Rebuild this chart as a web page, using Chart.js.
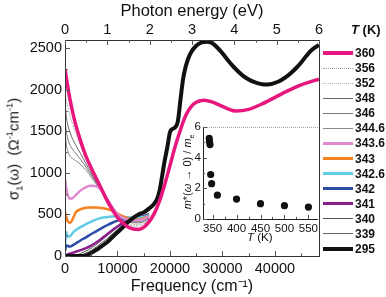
<!DOCTYPE html>
<html>
<head>
<meta charset="utf-8">
<script src="https://cdn.jsdelivr.net/npm/chart.js@4.4.0/dist/chart.umd.min.js"></script>
<style>
  body { margin: 0; background: #fff; }
  #wrap { position: relative; width: 386px; height: 297px; overflow: hidden;
          font-family: "Liberation Sans", Arial, sans-serif; color: #111; }
  #main { position: absolute; left: 0; top: 0; }
  #inset { position: absolute; left: 168px; top: 118px; }
  .lgtext { position: absolute; left: 355px; font-size: 12px; font-weight: bold; line-height: 14px; white-space: nowrap; }
  .lgline { position: absolute; left: 323px; width: 30px; }
  .lab { position: absolute; white-space: nowrap; }
  sup, sub { font-size: 0.62em; line-height: 0; }
</style>
</head>
<body>
<div id="wrap">
  <canvas id="main" width="386" height="297"></canvas>
  <canvas id="inset" width="154" height="128"></canvas>
  <div id="legend"></div>
  <div class="lab" style="left:13px; top:149px; font-size:15px; transform:translate(-50%,-50%) rotate(-90deg);">σ<sub>1</sub>(ω)&nbsp; (Ω<sup>-1</sup>cm<sup>-1</sup>)</div>
  <div class="lab" style="left:351px; top:22px; font-size:13px; font-weight:bold;"><i>T</i> (K)</div>
  <div class="lab" style="left:247px; top:231px; font-size:11.5px;"><i>T</i> (K)</div>
  <div class="lab" style="left:187px; top:172px; font-size:11px; transform:translate(-50%,-50%) rotate(-90deg);"><i>m</i>*(<i>ω</i> → 0) / <i>m</i><sub>e</sub></div>
</div>
<script>
// temperatures (K), legend order
const temps = ['360', '356', '352', '348', '346', '344.6', '343.6', '343', '342.6', '342', '341', '340', '339', '295'];

// tick values
const freqTicks = [0, 10000, 20000, 30000, 40000];
const eVTicks = [0, 1, 2, 3, 4, 5, 6];
const sigmaTicks = [0, 500, 1000, 1500, 2000, 2500];
const insetTTicks = [350, 400, 450, 500, 550];
const insetMTicks = [0, 2, 4, 6];

// frequency grid (cm^-1) shared by the intermediate temperatures
const freqLow = [0, 250, 500, 1000, 1500, 2000, 3000, 4000, 5000, 6000, 7000, 8000, 9000, 10000, 11000, 12000, 13000, 14000, 15000, 16000];

const s356 = [2150, 2050, 1960, 1810, 1680, 1560, 1360, 1190, 1050, 920, 795, 670, 565, 478, 420, 380, 360, 360, 385, 430];
const s352 = [2000, 1880, 1800, 1680, 1580, 1490, 1320, 1170, 1035, 910, 790, 670, 570, 482, 430, 395, 380, 380, 400, 440];
const s348 = [1850, 1680, 1590, 1480, 1400, 1340, 1230, 1110, 1000, 890, 775, 665, 570, 485, 440, 410, 400, 400, 415, 450];
const s346 = [1650, 1500, 1420, 1330, 1280, 1240, 1160, 1070, 975, 875, 770, 665, 575, 495, 450, 425, 415, 415, 430, 460];
const s3446 = [1500, 1350, 1270, 1200, 1170, 1150, 1100, 1030, 950, 860, 765, 665, 580, 500, 460, 435, 425, 425, 440, 470];
const s3436 = [920, 820, 740, 690, 700, 730, 790, 830, 845, 840, 790, 690, 590, 505, 460, 440, 430, 430, 445, 475];
const s343 = [530, 470, 420, 400, 450, 520, 565, 580, 585, 585, 578, 565, 545, 510, 480, 455, 440, 440, 455, 480];
const s3426 = [130, 290, 230, 240, 280, 310, 350, 385, 415, 440, 460, 470, 475, 475, 470, 465, 460, 460, 470, 490];
const s342 = [60, 130, 120, 115, 130, 150, 190, 225, 265, 300, 335, 370, 400, 425, 445, 455, 460, 465, 475, 495];
const s341 = [10, 15, 20, 30, 40, 50, 70, 95, 125, 165, 210, 260, 310, 355, 395, 425, 445, 460, 475, 500];
const s340 = [0, 0, 0, 0, 2, 8, 30, 60, 95, 140, 190, 245, 295, 345, 385, 420, 445, 465, 480, 505];
const s339 = [0, 0, 0, 0, 0, 0, 10, 35, 70, 110, 160, 210, 265, 320, 370, 410, 440, 465, 485, 515];

// 360 K, full range
const f360 = [0, 500, 1000, 1500, 2000, 3000, 4000, 5000, 6000, 7000, 8000, 9000, 10000, 11000, 12000, 13000, 14000, 15000, 16000, 17000, 18000, 19000, 20000, 21000, 22000, 23000, 24000, 25000, 26500, 28000, 30000, 32500, 35000, 37500, 40000, 42500, 45000, 48393];
const s360 = [2250, 2050, 1870, 1720, 1590, 1380, 1200, 1060, 930, 800, 670, 560, 465, 400, 350, 325, 320, 345, 410, 510, 660, 860, 1090, 1320, 1520, 1690, 1795, 1850, 1875, 1855, 1800, 1745, 1765, 1830, 1910, 1990, 2060, 2130];

// 295 K, full range
const f295 = [0, 3500, 4000, 5000, 6000, 7000, 8000, 9000, 10000, 11000, 12000, 13000, 14000, 15000, 16000, 17000, 17500, 18000, 18500, 19000, 19500, 20000, 20500, 21000, 21500, 22000, 22500, 23000, 23500, 24000, 25000, 26000, 27000, 28000, 29000, 30000, 31000, 32000, 33000, 34000, 35000, 36000, 37000, 38000, 39000, 40000, 41000, 42000, 43000, 44000, 45000, 46000, 47000, 48393];
const s295 = [0, 0, 8, 35, 75, 120, 165, 225, 285, 345, 410, 460, 500, 525, 570, 630, 680, 780, 960, 1150, 1310, 1490, 1530, 1550, 1620, 1880, 2130, 2280, 2380, 2450, 2530, 2570, 2580, 2565, 2510, 2440, 2360, 2285, 2220, 2165, 2125, 2095, 2075, 2065, 2068, 2085, 2110, 2150, 2200, 2260, 2330, 2410, 2480, 2540];

// inset: effective mass ratio vs temperature
const insetT = [343, 343.6, 344.6, 346, 348, 360, 400, 450, 500, 550];
const insetM = [5.25, 5.05, 4.85, 2.9, 2.3, 1.55, 1.3, 1.0, 0.87, 0.78];

const seriesData = {
  '360': [f360, s360], '356': [freqLow, s356], '352': [freqLow, s352], '348': [freqLow, s348],
  '346': [freqLow, s346], '344.6': [freqLow, s3446], '343.6': [freqLow, s3436], '343': [freqLow, s343],
  '342.6': [freqLow, s3426], '342': [freqLow, s342], '341': [freqLow, s341], '340': [freqLow, s340],
  '339': [freqLow, s339], '295': [f295, s295]
};

const styles = {
  '360':   { color: '#e8177d', width: 3.5, order: 0 },
  '356':   { color: '#a0a0a0', width: 1, dash: [2, 1], order: 3 },
  '352':   { color: '#b4b4b4', width: 1, dash: [2, 1], order: 3 },
  '348':   { color: '#666666', width: 1, order: 3 },
  '346':   { color: '#777777', width: 1, order: 3 },
  '344.6': { color: '#888888', width: 1, order: 3 },
  '343.6': { color: '#de8ad0', width: 2.5, order: 1 },
  '343':   { color: '#f7801f', width: 2.5, order: 1 },
  '342.6': { color: '#62cbe6', width: 2.5, order: 1 },
  '342':   { color: '#2c4ca6', width: 2.5, order: 1 },
  '341':   { color: '#8b1f8b', width: 2.5, order: 1 },
  '340':   { color: '#555555', width: 1, order: 2 },
  '339':   { color: '#666666', width: 1, order: 2 },
  '295':   { color: '#111111', width: 4, order: 0 }
};

Chart.defaults.font.family = '"Liberation Sans", Arial, sans-serif';
Chart.defaults.color = '#111';

const fixedTicks = vals => s => { s.ticks = vals.map(v => ({ value: v })); };

// frame + inward ticks
const frameTicks = {
  id: 'frameTicks',
  afterDatasetsDraw(chart, args, opts) {
    const { ctx, chartArea: a } = chart;
    ctx.save();
    ctx.lineWidth = 1;
    if (opts.inset) {
      ctx.strokeStyle = '#999';
      ctx.setLineDash([1, 1]);
      ctx.beginPath(); ctx.moveTo(a.left, a.top + 0.5); ctx.lineTo(a.right, a.top + 0.5); ctx.stroke();
      ctx.setLineDash([]);
      ctx.strokeStyle = '#222';
      ctx.beginPath();
      ctx.moveTo(a.left + 0.5, a.top); ctx.lineTo(a.left + 0.5, a.bottom + 0.5); ctx.lineTo(a.right, a.bottom + 0.5);
      ctx.stroke();
    } else {
      ctx.strokeStyle = '#333';
      ctx.strokeRect(a.left + 0.5, a.top + 0.5, a.right - a.left, a.bottom - a.top);
    }
    ctx.strokeStyle = '#555';
    opts.marks.forEach(m => {
      const s = chart.scales[m.id];
      for (let v = m.start; v <= s.max + 1e-9; v += m.minor) {
        const major = Math.abs(v / m.major - Math.round(v / m.major)) < 1e-6;
        const len = major ? m.len : m.len * 0.55;
        const p = Math.round(s.getPixelForValue(v)) + 0.5;
        ctx.beginPath();
        if (m.edge === 'bottom') { ctx.moveTo(p, a.bottom); ctx.lineTo(p, a.bottom - len); }
        if (m.edge === 'top') { ctx.moveTo(p, a.top); ctx.lineTo(p, a.top + len); }
        if (m.edge === 'left') { ctx.moveTo(a.left, p); ctx.lineTo(a.left + len, p); }
        ctx.stroke();
      }
    });
    ctx.restore();
  }
};

const datasets = temps.map(t => {
  const [fx, sy] = seriesData[t];
  const st = styles[t];
  return {
    label: t,
    data: fx.map((f, i) => ({ x: f, y: sy[i] })),
    borderColor: st.color,
    borderWidth: st.width,
    borderDash: st.dash || [],
    pointRadius: 0,
    fill: false,
    cubicInterpolationMode: 'monotone',
    order: st.order
  };
});

const tickFont = { size: 14.5 };
const plain = v => String(v);

new Chart(document.getElementById('main'), {
  type: 'line',
  data: { datasets },
  plugins: [frameTicks],
  options: {
    responsive: false,
    animation: false,
    layout: { padding: { left: 0, right: 67, top: 0, bottom: 0 } },
    plugins: {
      legend: { display: false },
      tooltip: { enabled: false },
      frameTicks: {
        marks: [
          { id: 'x', edge: 'bottom', start: 0, major: 10000, minor: 5000, len: 5 },
          { id: 'x2', edge: 'top', start: 0, major: 1, minor: 0.5, len: 5 },
          { id: 'y', edge: 'left', start: 0, major: 500, minor: 250, len: 5 }
        ]
      }
    },
    scales: {
      x: {
        type: 'linear', position: 'bottom', min: 0, max: 48393,
        grid: { display: false, drawTicks: false }, border: { display: false },
        afterBuildTicks: fixedTicks(freqTicks),
        ticks: { padding: 4, font: tickFont, maxRotation: 0, autoSkip: false, callback: plain },
        title: { display: true, text: 'Frequency (cm⁻¹)', font: { size: 16 }, padding: { top: 0, bottom: 1 } },
        afterFit: s => { s.height = 41; }
      },
      x2: {
        type: 'linear', position: 'top', min: 0, max: 6,
        grid: { display: false, drawTicks: false }, border: { display: false },
        afterBuildTicks: fixedTicks(eVTicks),
        ticks: { padding: 1, font: tickFont, maxRotation: 0, autoSkip: false, callback: plain },
        title: { display: true, text: 'Photon energy (eV)', font: { size: 16.5 }, padding: { top: 1.5, bottom: 0 } },
        afterFit: s => { s.height = 40; }
      },
      y: {
        type: 'linear', min: 0, max: 2600,
        grid: { display: false, drawTicks: false }, border: { display: false },
        afterBuildTicks: fixedTicks(sigmaTicks),
        ticks: { padding: 3, font: tickFont, autoSkip: false, callback: plain },
        afterFit: s => { s.width = 65; }
      }
    }
  }
});

new Chart(document.getElementById('inset'), {
  type: 'scatter',
  data: {
    datasets: [{
      data: insetT.map((t, i) => ({ x: t, y: insetM[i] })),
      backgroundColor: '#111', borderColor: '#111', pointRadius: 3.6, borderWidth: 0
    }]
  },
  plugins: [frameTicks],
  options: {
    responsive: false,
    animation: false,
    layout: { padding: { left: 0, right: 3, top: 8, bottom: 0 } },
    plugins: {
      legend: { display: false },
      tooltip: { enabled: false },
      frameTicks: {
        inset: true,
        marks: [
          { id: 'x', edge: 'bottom', start: 350, major: 50, minor: 25, len: 4 },
          { id: 'y', edge: 'left', start: 0, major: 2, minor: 1, len: 4 }
        ]
      }
    },
    scales: {
      x: {
        type: 'linear', min: 330, max: 570,
        grid: { display: false, drawTicks: false }, border: { display: false },
        afterBuildTicks: fixedTicks(insetTTicks),
        ticks: { padding: 3, font: { size: 11.5 }, maxRotation: 0, autoSkip: false, callback: plain },
        afterFit: s => { s.height = 27; }
      },
      y: {
        type: 'linear', min: 0, max: 6,
        grid: { display: false, drawTicks: false }, border: { display: false },
        afterBuildTicks: fixedTicks(insetMTicks),
        ticks: { padding: 2, font: { size: 11.5 }, autoSkip: false, callback: plain },
        afterFit: s => { s.width = 35; }
      }
    }
  }
});

// legend
const legend = document.getElementById('legend');
temps.forEach((t, i) => {
  const yc = 53 + i * 15.08;
  const st = styles[t];
  const line = document.createElement('div');
  line.className = 'lgline';
  const w = st.width >= 3 ? 4 : (st.width > 1 ? 3 : 1);
  line.style.top = (yc - w / 2) + 'px';
  line.style.borderTop = w + 'px ' + (st.dash ? 'dotted ' : 'solid ') + st.color;
  legend.appendChild(line);
  const txt = document.createElement('div');
  txt.className = 'lgtext';
  txt.style.top = (yc - 7) + 'px';
  txt.textContent = t;
  legend.appendChild(txt);
});
</script>
</body>
</html>
